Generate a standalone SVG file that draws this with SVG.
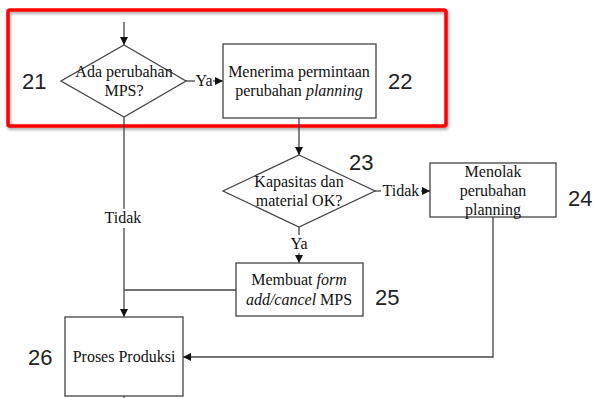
<svg xmlns="http://www.w3.org/2000/svg" width="594" height="398" viewBox="0 0 594 398">
<defs>
<marker id="ah" viewBox="0 0 10 10" refX="10" refY="5" markerWidth="8" markerHeight="8" markerUnits="userSpaceOnUse" orient="auto">
<path d="M0,0 L10,5 L0,10 Z" fill="#111"/>
</marker>
<filter id="sh" x="-5%" y="-5%" width="110%" height="115%">
<feDropShadow dx="1" dy="2" stdDeviation="1.5" flood-color="#000" flood-opacity="0.35"/>
</filter>
</defs>
<style>
.n{fill:#fff;stroke:#444;stroke-width:1.3}
.c{fill:none;stroke:#444;stroke-width:1.3}
.t{font-family:"Liberation Serif","Times New Roman",serif;font-size:16px;fill:#111;text-anchor:middle}
.num{font-family:"Liberation Sans",Arial,sans-serif;font-size:22px;fill:#222}
</style>
<rect width="594" height="398" fill="#fff"/>
<rect x="8" y="10" width="438" height="116" rx="2" fill="none" stroke="#ff0000" stroke-width="3.5" filter="url(#sh)"/>

<g id="connectors">
<line class="c" x1="124" y1="22" x2="124" y2="45" marker-end="url(#ah)"/>
<line class="c" x1="186" y1="81" x2="195" y2="81"/>
<line class="c" x1="213" y1="81" x2="223" y2="81" marker-end="url(#ah)"/>
<text class="t" x="204" y="86">Ya</text>
<line class="c" x1="299" y1="118" x2="299" y2="155" marker-end="url(#ah)"/>
<line class="c" x1="375" y1="191" x2="381" y2="191"/>
<line class="c" x1="421" y1="191" x2="430" y2="191" marker-end="url(#ah)"/>
<text class="t" x="401" y="196">Tidak</text>
<line class="c" x1="299" y1="227" x2="299" y2="235"/>
<text class="t" x="299" y="249">Ya</text>
<line class="c" x1="299" y1="253" x2="299" y2="263" marker-end="url(#ah)"/>
<line class="c" x1="124" y1="117" x2="124" y2="209"/>
<text class="t" x="123" y="223">Tidak</text>
<line class="c" x1="124" y1="228" x2="124" y2="317" marker-end="url(#ah)"/>
<polyline class="c" points="236,290 124,290"/>
<polyline class="c" points="493,217 493,357 183,357" marker-end="url(#ah)"/>
<line class="c" x1="124" y1="396" x2="124" y2="398"/>
</g>

<g id="n21">
<polygon class="n" points="124,45 186,81 124,117 61,81"/>
<text class="t" x="124" y="77">Ada perubahan</text>
<text class="t" x="124" y="96">MPS?</text>
<text class="num" x="22" y="89">21</text>
</g>
<g id="n22">
<rect class="n" x="223" y="44" width="153" height="74"/>
<text class="t" x="299" y="77">Menerima permintaan</text>
<text class="t" x="299" y="96">perubahan <tspan font-style="italic">planning</tspan></text>
<text class="num" x="388" y="89">22</text>
</g>
<g id="n23">
<polygon class="n" points="299,155 375,191 299,227 223,191"/>
<text class="t" x="299" y="187">Kapasitas dan</text>
<text class="t" x="299" y="206">material OK?</text>
<text class="num" x="349" y="170">23</text>
</g>
<g id="n24">
<rect class="n" x="430" y="163" width="126" height="54"/>
<text class="t" x="493" y="177">Menolak</text>
<text class="t" x="493" y="196">perubahan</text>
<text class="t" x="493" y="215">planning</text>
<text class="num" x="568" y="206">24</text>
</g>
<g id="n25">
<rect class="n" x="236" y="263" width="127" height="53"/>
<text class="t" x="299" y="285">Membuat <tspan font-style="italic">form</tspan></text>
<text class="t" x="299" y="305"><tspan font-style="italic">add/cancel</tspan> MPS</text>
<text class="num" x="375" y="305">25</text>
</g>
<g id="n26">
<rect class="n" x="65" y="317" width="118" height="79"/>
<text class="t" x="124" y="362">Proses Produksi</text>
<text class="num" x="28" y="365">26</text>
</g>
</svg>
